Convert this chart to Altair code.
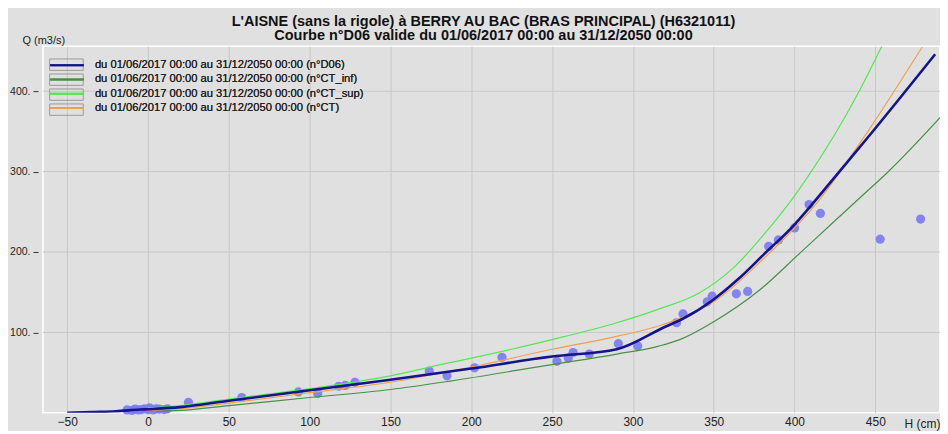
import altair as alt
import pandas as pd

# ---- data ----
LABELS = [
    "du 01/06/2017 00:00 au 31/12/2050 00:00 (n°D06)",
    "du 01/06/2017 00:00 au 31/12/2050 00:00 (n°CT_inf)",
    "du 01/06/2017 00:00 au 31/12/2050 00:00 (n°CT_sup)",
    "du 01/06/2017 00:00 au 31/12/2050 00:00 (n°CT)",
]
COLORS = ["#14148c", "#459245", "#52e852", "#f0a04b"]

H_D06 = [-50, -35, -20, -5, 0, 20, 50, 100, 150, 200, 250, 290, 320, 330, 350, 365, 382, 399, 412, 424, 448, 487]
Q_D06 = [0, 1, 2, 4, 4.5, 7, 15, 28, 41, 55, 70, 79, 107, 116, 141, 166, 199, 232, 262, 291, 349, 446]

H_INF = [5, 20, 50, 100, 150, 187, 250, 290, 316, 329, 349, 378, 403, 424, 444, 457, 495]
Q_INF = [2, 3, 9, 19, 29, 39.5, 60, 73, 83, 91, 112, 152, 198, 237, 274, 298, 378]

H_SUP = [0, 20, 50, 100, 150, 186, 200, 250, 290, 316, 341, 362, 382, 399, 407, 440, 454]
Q_SUP = [6, 9, 17, 30, 46, 62, 68, 91, 112, 129, 149, 180, 224, 267, 290, 400, 456]

H_CT = [0, 20, 50, 100, 150, 200, 250, 290, 316, 330, 350, 380, 415, 446, 479]
Q_CT = [3, 5, 12, 25, 38, 57, 79, 95, 108, 118, 138, 190, 264, 352, 455]

H_PTS = [-13, -10, -8, -6, -4, -2, 0, 1, 3, 5, 7, 10, 12, 25, 58, 93, 105, 118, 122, 128, 174, 185,
         202, 219, 253, 260, 263, 273, 291, 303, 327, 331, 346, 349, 364, 371, 384, 390, 400, 409,
         416, 453, 478]
Q_PTS = [3.5, 3, 4.5, 3.5, 4, 5, 4, 6, 3.5, 5, 4.5, 4, 5, 13, 19, 26, 24, 33, 34, 38, 52, 46,
         56, 69, 64, 68, 75, 73, 86, 83, 112, 123, 138, 145, 148, 151, 207, 215, 230, 259,
         248, 216, 241]

X_TICKS = [-50, 0, 50, 100, 150, 200, 250, 300, 350, 400, 450]
Y_TICKS = [100, 200, 300, 400]

TITLE = ["L'AISNE (sans la rigole) à BERRY AU BAC (BRAS PRINCIPAL) (H6321011)",
         "Courbe n°D06 valide du 01/06/2017 00:00 au 31/12/2050 00:00"]

FONT = "Liberation Sans"

# ---- tables ----
def curve(label, hs, qs):
    return pd.DataFrame({"serie": label, "h": hs, "q": qs, "o": range(len(hs))})

thin = pd.concat([curve(LABELS[1], H_INF, Q_INF),
                  curve(LABELS[2], H_SUP, Q_SUP),
                  curve(LABELS[3], H_CT, Q_CT)])
navy = curve(LABELS[0], H_D06, Q_D06)
pts = pd.DataFrame({"h": H_PTS, "q": Q_PTS})
ygrid = pd.DataFrame({"q": Y_TICKS})
frames = pd.DataFrame({"cadre": LABELS, "h": [H_D06[0]] * 4, "q": [Q_D06[0]] * 4})

xs = alt.Scale(domain=[-65, 490], nice=False, zero=False)
ys = alt.Scale(domain=[0, 456], nice=False, zero=False)
cs = alt.Scale(domain=LABELS, range=COLORS)

LINE_SYM = "M1.7,0H7.3"
FRAME_SYM = "M1.7,-0.95H7.3V0.95H1.7Z"
LEG_X, LEG_Y, LAB_OFF = -10, 12, 48

xax = alt.Axis(values=X_TICKS, grid=True, gridColor="#c8c8c8", ticks=False, domain=False,
               labelFont=FONT, labelFontSize=12, labelColor="#222", labelPadding=4,
               labelOverlap=False, labelFlush=False,
               title="H (cm)", titleFont=FONT, titleFontSize=12, titleFontWeight="normal",
               titleColor="#222", titleAnchor="start", titleAlign="left", titleBaseline="middle",
               titleX=862, titleY=11)
yax = alt.Axis(values=Y_TICKS, grid=False, offset=5, tickSize=5, tickColor="#333", domain=False,
               labelExpr="datum.value + '.'", labelFont=FONT, labelFontSize=10.5, labelColor="#222",
               labelPadding=3,
               title="Q (m3/s)", titleFont=FONT, titleFontSize=11, titleFontWeight="normal",
               titleColor="#222", titleAngle=0, titleAlign="left", titleBaseline="middle",
               titleX=-16, titleY=-6)

grid = alt.Chart(ygrid).mark_rule(color="#c8c8c8", strokeWidth=1).encode(
    y=alt.Y("q:Q", scale=ys, axis=yax))

points = alt.Chart(pts).mark_circle(size=85, color="#7a7af2", opacity=0.9).encode(
    x=alt.X("h:Q", scale=xs, axis=xax),
    y=alt.Y("q:Q", scale=ys))

legend = alt.Legend(orient="none", legendX=LEG_X, legendY=LEG_Y, title=None, padding=0,
                    symbolType=LINE_SYM, symbolSize=144, symbolStrokeWidth=2,
                    labelFont=FONT, labelFontSize=11.2, labelColor="#222", labelOffset=LAB_OFF,
                    rowPadding=1.3, labelLimit=400)

frame_legend = alt.Legend(orient="none", legendX=LEG_X, legendY=LEG_Y, title=None, padding=0,
                          symbolSize=144, symbolStrokeWidth=1, symbolStrokeColor="#9a9a9a",
                          symbolFillColor="transparent", symbolOpacity=1,
                          labelExpr="''", labelFont=FONT, labelFontSize=11.2, labelOffset=LAB_OFF,
                          rowPadding=-4.0)

frame_layer = alt.Chart(frames).mark_point(opacity=0, filled=False).encode(
    x=alt.X("h:Q", scale=xs),
    y=alt.Y("q:Q", scale=ys),
    shape=alt.Shape("cadre:N", scale=alt.Scale(domain=LABELS, range=[FRAME_SYM] * 4),
                    legend=frame_legend))

thin_lines = alt.Chart(thin).mark_line(strokeWidth=1.2, clip=True, interpolate="monotone").encode(
    x=alt.X("h:Q", scale=xs),
    y=alt.Y("q:Q", scale=ys),
    color=alt.Color("serie:N", scale=cs, legend=legend),
    order="o:Q")

navy_line = alt.Chart(navy).mark_line(strokeWidth=2.6, clip=True, interpolate="monotone").encode(
    x=alt.X("h:Q", scale=xs),
    y=alt.Y("q:Q", scale=ys),
    color=alt.Color("serie:N", scale=cs, legend=legend),
    order="o:Q")

chart = alt.layer(grid, frame_layer, points, thin_lines, navy_line).resolve_legend(
    color="independent", shape="independent"
).properties(
    width=898, height=367,
    autosize=alt.AutoSizeParams(type="none"),
    padding={"left": 35, "top": 38, "right": 0, "bottom": 18},
    background="#e0e0e0",
    title=alt.TitleParams(TITLE, anchor="middle", font=FONT, fontSize=14.5, fontWeight="bold",
                          color="#111", lineHeight=14.5, offset=-9.5, dx=-8),
).configure_view(stroke="#ffffff", strokeWidth=1.5, fill="#e0e0e0")

chart.save("out.html", embed_options={"renderer": "svg", "actions": False})
